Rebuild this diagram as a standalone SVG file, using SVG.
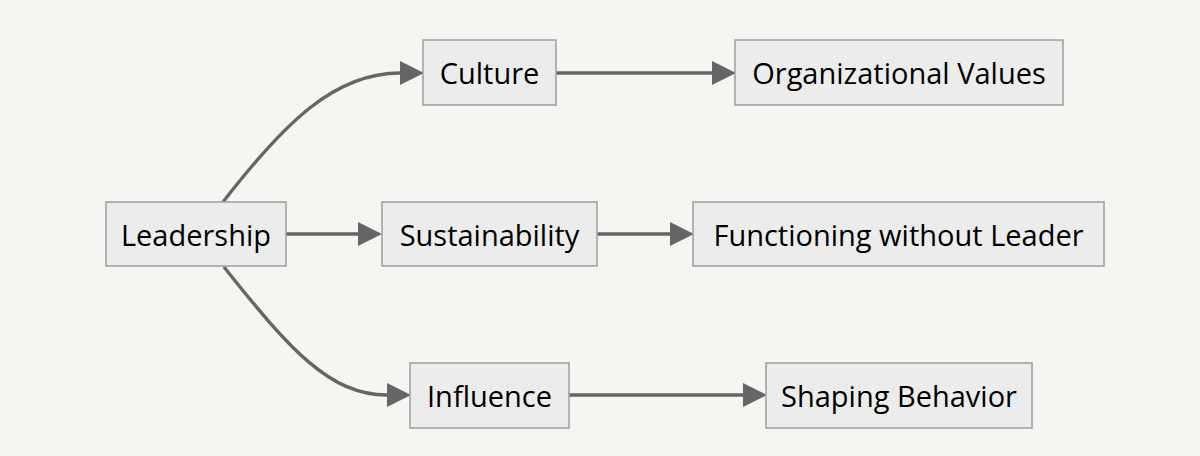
<svg xmlns="http://www.w3.org/2000/svg" width="1200" height="456" viewBox="0 0 1200 456">
<style>
.node rect{fill:#ececec;stroke:#a3a3a3;stroke-width:1.6}
.node text{font-family:"Open Sans","Liberation Sans",sans-serif;font-size:29px;fill:#000;text-anchor:middle;dominant-baseline:central}
.edge{fill:none;stroke:#666;stroke-width:3.4;marker-end:url(#arr)}
</style>
<defs>
<marker id="arr" markerUnits="userSpaceOnUse" markerWidth="24" markerHeight="24" refX="0" refY="12" orient="auto" viewBox="0 0 24 24">
<path d="M0,0 L24,12 L0,24 Z" fill="#666"/>
</marker>
</defs>
<rect width="1200" height="456" fill="#f6f5f2"/>
<g id="edges">
<path class="edge" d="M223,202 C285,122 335,73 400,73"/>
<path class="edge" d="M286,234 L358,234"/>
<path class="edge" d="M224,267 C290,350 330,395 387,395"/>
<path class="edge" d="M556,73 L712,73"/>
<path class="edge" d="M597,234 L670,234"/>
<path class="edge" d="M569,395 L743,395"/>
</g>
<g id="leadership" class="node"><rect x="106" y="202" width="180" height="64"/><text x="196" y="234">Leadership</text></g>
<g id="culture" class="node"><rect x="423" y="40" width="133" height="65"/><text x="489.5" y="72.5">Culture</text></g>
<g id="sustainability" class="node"><rect x="382" y="202" width="215" height="64"/><text x="489.5" y="234">Sustainability</text></g>
<g id="influence" class="node"><rect x="410" y="363" width="159" height="65"/><text x="489.5" y="395.5">Influence</text></g>
<g id="values" class="node"><rect x="735" y="40" width="328" height="65"/><text x="899" y="72.5">Organizational Values</text></g>
<g id="functioning" class="node"><rect x="693" y="202" width="411" height="64"/><text x="898.5" y="234">Functioning without Leader</text></g>
<g id="shaping" class="node"><rect x="766" y="363" width="266" height="65"/><text x="899" y="395.5">Shaping Behavior</text></g>
</svg>
